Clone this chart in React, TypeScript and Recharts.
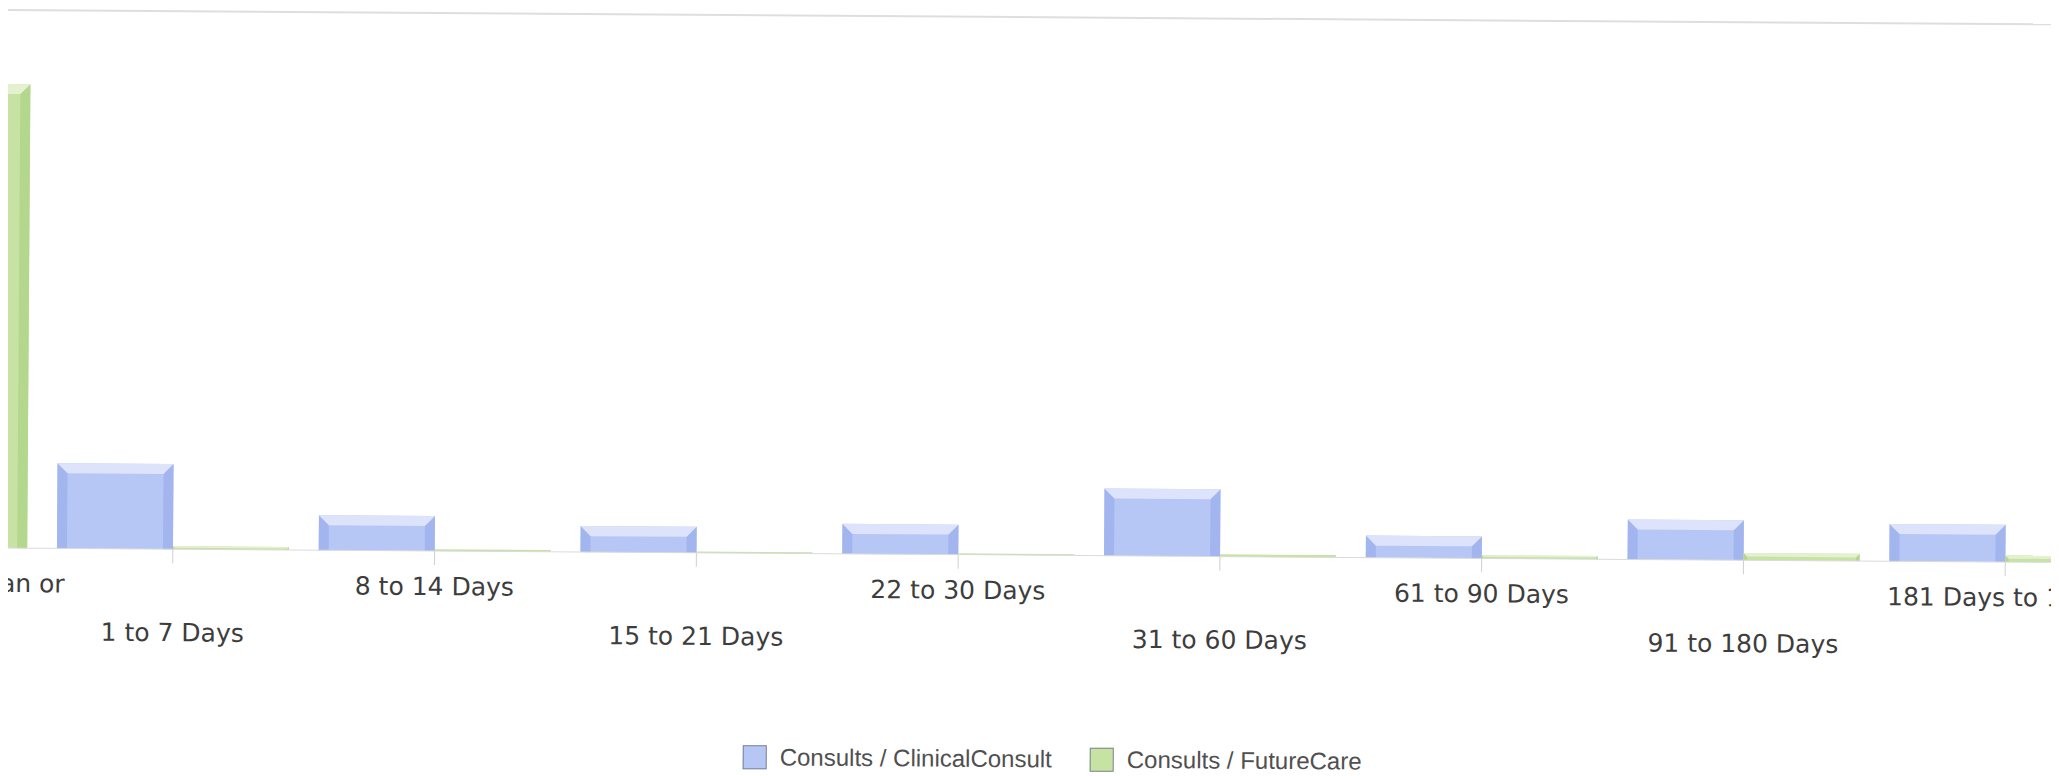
import { Bar, BarChart, Legend, XAxis, YAxis } from "recharts"

const CATEGORIES = [
  "Same Date, Less than or",
  "1 to 7 Days",
  "8 to 14 Days",
  "15 to 21 Days",
  "22 to 30 Days",
  "31 to 60 Days",
  "61 to 90 Days",
  "91 to 180 Days",
  "181 Days to 1 Year",
]
const CLINICAL_CONSULT = [120, 190, 78, 58, 67, 150, 49, 89, 83]
const FUTURE_CARE = [1035, 7, 4, 3, 3, 5, 7, 16, 15]
const Y_MAX = 1200

const SERIES = [
  { key: "clinical", name: "Consults / ClinicalConsult", body: "#b6c7f5", side: "#a3b5ee", top: "#dce3fa" },
  { key: "future", name: "Consults / FutureCare", body: "#c6e3a3", side: "#b4d78e", top: "#e4f1d1" },
]

const data = CATEGORIES.map((name, i) => ({
  name,
  clinical: CLINICAL_CONSULT[i],
  future: FUTURE_CARE[i],
}))

// the scan is cropped on both sides and a little tilted
const CLIP_LEFT = 5
const PLOT_LEFT = -216
const CHART_W = 2356
const CHART_H = 776
const TILT = "rotate(0.4deg)"

type Colors = { body: string; side: string; top: string }

function BevelBar(props: any) {
  const { x, y, width, height, colors } = props as {
    x: number
    y: number
    width: number
    height: number
    colors: Colors
  }
  if (!height || height <= 0) return null
  const e = Math.min(10, height / 2, width / 4)
  const r = x + width
  const b = y + height
  return (
    <g>
      <rect x={x} y={y} width={width} height={height} fill={colors.body} />
      {e > 1.5 && (
        <>
          <polygon points={`${x},${y} ${x + e},${y + e} ${x + e},${b} ${x},${b}`} fill={colors.side} />
          <polygon points={`${r},${y} ${r - e},${y + e} ${r - e},${b} ${r},${b}`} fill={colors.side} />
          <polygon points={`${x},${y} ${r},${y} ${r - e},${y + e} ${x + e},${y + e}`} fill={colors.top} />
        </>
      )}
    </g>
  )
}

function StaggerTick(props: any) {
  const { x, y, payload, index } = props
  const dy = index % 2 === 0 ? 30 : 78
  return (
    <text
      x={x}
      y={y + dy}
      textAnchor="middle"
      fontFamily="'DejaVu Sans', Verdana, sans-serif"
      fontSize={25}
      fill="#3d3d3d"
    >
      {payload.value}
    </text>
  )
}

function LegendContent() {
  return (
    <div
      style={{
        display: "flex",
        alignItems: "center",
        fontFamily: "'Liberation Sans', Arial, sans-serif",
        fontSize: 24,
        color: "#505050",
        whiteSpace: "nowrap",
      }}
    >
      {SERIES.map((s, i) => (
        <div key={s.key} style={{ display: "flex", alignItems: "center", marginLeft: i ? 38 : 0 }}>
          <span
            style={{
              display: "inline-block",
              width: 22,
              height: 22,
              background: s.body,
              border: "1px solid #7d8595",
              marginRight: 13,
            }}
          />
          <span>{s.name}</span>
        </div>
      ))}
    </div>
  )
}

export default function App() {
  return (
    <div
      style={{
        width: 2052 - CLIP_LEFT,
        height: 768,
        marginLeft: CLIP_LEFT - 8,
        overflow: "hidden",
        position: "relative",
        background: "#fff",
      }}
    >
      <div
        style={{
          position: "absolute",
          left: -CLIP_LEFT,
          top: -8,
          width: 2600,
          height: 800,
          transform: TILT,
          transformOrigin: "0 0",
        }}
      >
        <div
          style={{ position: "absolute", left: 0, top: 9, width: 2100, borderTop: "2px solid #dedede" }}
        />
        <div style={{ position: "absolute", left: PLOT_LEFT, top: 0 }}>
          <BarChart
            width={CHART_W}
            height={CHART_H}
            data={data}
            barGap={0}
            margin={{ top: 10, right: 0, bottom: 118, left: 0 }}
          >
            <XAxis
              dataKey="name"
              height={110}
              interval={0}
              tickSize={14}
              tickMargin={0}
              axisLine={{ stroke: "#dadada" }}
              tickLine={{ stroke: "#cfcfcf" }}
              tick={<StaggerTick />}
            />
            <YAxis hide domain={[0, Y_MAX]} />
            <Legend
              layout="horizontal"
              verticalAlign="middle"
              align="center"
              content={<LegendContent />}
              wrapperStyle={{ left: 748 - PLOT_LEFT, top: 738, width: 700, height: 30 }}
            />
            {SERIES.map((s) => (
              <Bar
                key={s.key}
                dataKey={s.key}
                name={s.name}
                fill={s.body}
                barSize={116}
                isAnimationActive={false}
                shape={(p: any) => <BevelBar {...p} colors={s} />}
              />
            ))}
          </BarChart>
        </div>
      </div>
    </div>
  )
}
